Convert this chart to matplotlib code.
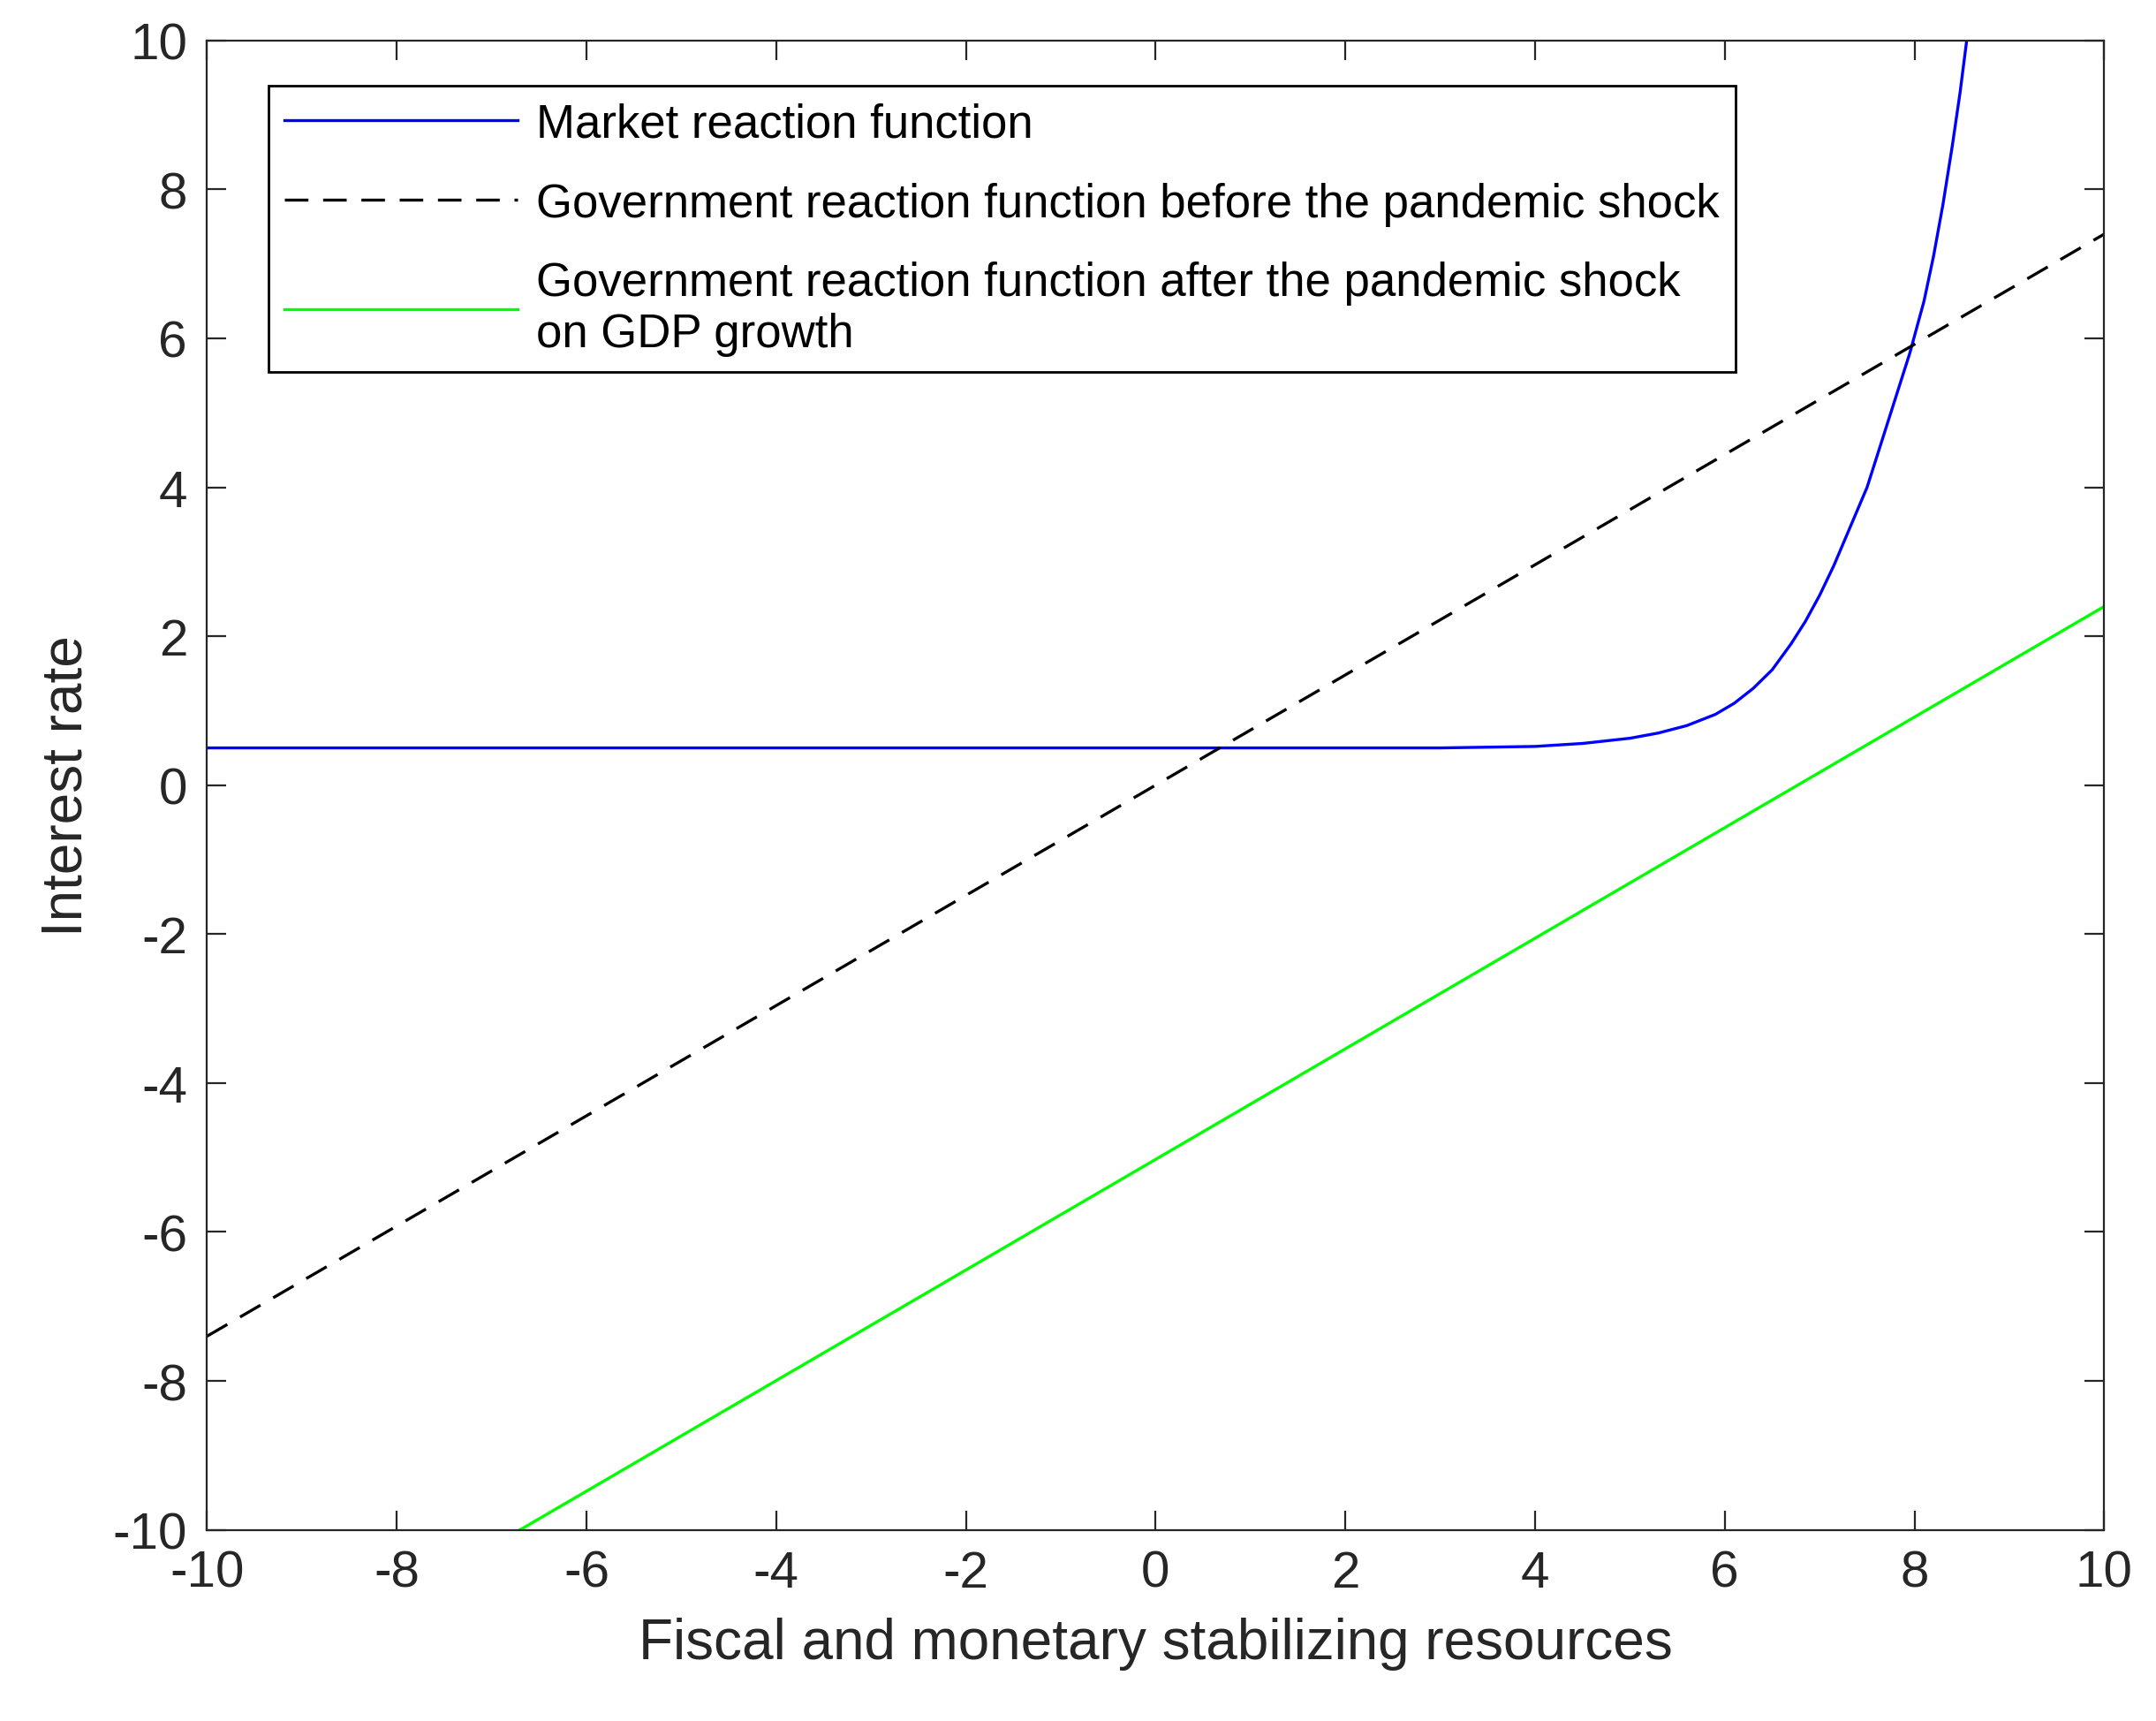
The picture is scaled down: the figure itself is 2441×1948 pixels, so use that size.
import numpy as np
from matplotlib import pyplot as plt

plt.rcParams['font.family'] = ['Liberation Sans', 'DejaVu Sans']
plt.rcParams['axes.unicode_minus'] = False

# values
market_x = [-10, -8, -6, -4, -2, 0, 2, 3, 3.5, 4, 4.5, 5, 5.3, 5.6, 5.9, 6.1, 6.3, 6.5, 6.7, 6.85, 7.0, 7.15, 7.3, 7.5, 7.65, 7.8, 7.95, 8.1, 8.2, 8.3, 8.4, 8.48, 8.55]
market_y = [0.5, 0.5, 0.5, 0.5, 0.5, 0.5, 0.5, 0.5, 0.51, 0.52, 0.56, 0.63, 0.7, 0.8, 0.95, 1.1, 1.3, 1.55, 1.9, 2.2, 2.55, 2.95, 3.4, 4.0, 4.6, 5.2, 5.8, 6.5, 7.1, 7.8, 8.6, 9.3, 10.0]

gov_before_x = [-10, 10]
gov_before_y = [-7.4, 7.4]

gov_after_x = [-6.7, 10]
gov_after_y = [-10, 2.4]

fig = plt.figure(figsize=(12.205, 9.745), dpi=200)
ax = fig.add_axes([0.096, 0.111, 0.88, 0.865])

ax.plot(market_x, market_y, color='#0000ff', lw=1.2, label='Market reaction function')
ax.plot(gov_before_x, gov_before_y, color='black', lw=1.2, dashes=(8, 5),
        label='Government reaction function before the pandemic shock')
ax.plot(gov_after_x, gov_after_y, color='#00ff00', lw=1.2,
        label='Government reaction function after the pandemic shock\non GDP growth')

ax.set_xlim(-10, 10)
ax.set_ylim(-10, 10)
ax.set_xticks(range(-10, 11, 2))
ax.set_yticks(range(-10, 11, 2))
ax.tick_params(direction='in', top=True, right=True, labelsize=21, length=8, colors='#262626', pad=8)
for s in ax.spines.values():
    s.set_color('#262626')

ax.set_xlabel('Fiscal and monetary stabilizing resources', fontsize=23, color='#262626', labelpad=8)
ax.set_ylabel('Interest rate', fontsize=23, color='#262626', labelpad=8)

leg = ax.legend(loc='upper left', bbox_to_anchor=(0.02, 0.985), fontsize=19, fancybox=False,
                edgecolor='black', framealpha=1, handlelength=5.0, handletextpad=0.4,
                borderpad=0.35, labelspacing=0.75)
leg.get_frame().set_linewidth(1.0)

fig.savefig('out.png')
